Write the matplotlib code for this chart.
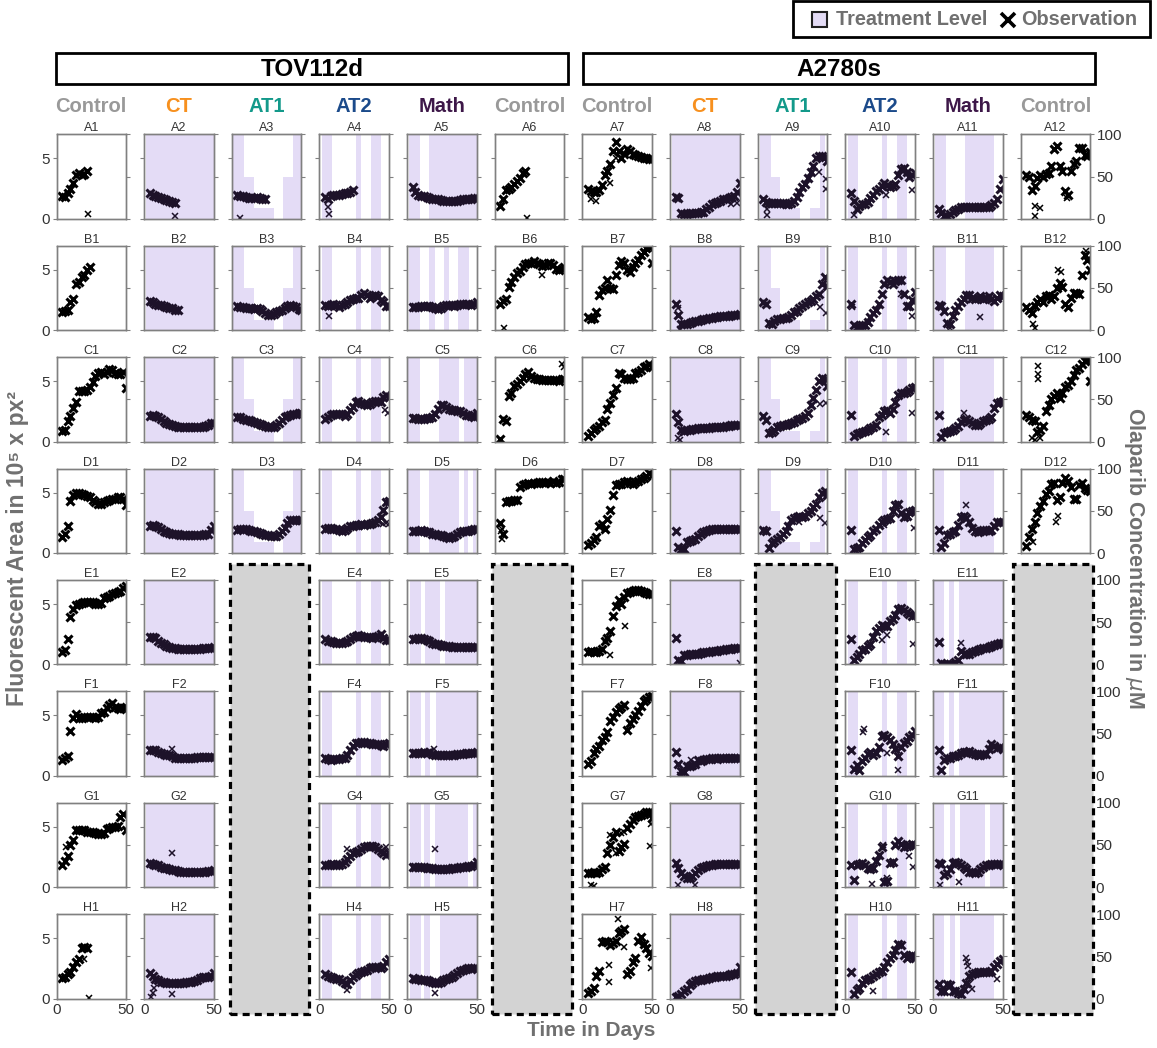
import matplotlib
matplotlib.use("Agg")
import matplotlib.pyplot as plt
from matplotlib.patches import Rectangle
from matplotlib.lines import Line2D

plt.rcParams['font.family'] = ['Liberation Sans', 'DejaVu Sans']

W, H = 1157, 1048
fig = plt.figure(figsize=(W / 100, H / 100), dpi=100)

# ---------------------------------------------------------------- data
days = [4, 6, 8, 10, 12, 14, 16, 18, 20, 22, 24, 26, 28, 30, 32, 34, 36, 38,
        40, 42, 44, 46, 48, 50]

# fluorescent area (1e5 px^2) per well, one value per observation day
A1 = [1.9, 1.8, 2.1, 2.5, 3.0, 3.6, 3.8, 3.6, 3.7, 4.0]
A2 = [2.1, 2.0, 1.9, 1.8, 1.7, 1.6, 1.55, 1.45, 1.4, 1.3]
A3 = [2.0, 1.9, 1.85, 1.8, 1.75, 1.7, 1.75, 1.8, 1.75, 1.65, 1.6]
A4 = [1.8, 1.6, 1.9, 1.95, 2.0, 2.0, 2.05, 2.1, 2.1, 2.2, 2.4]
A5 = [2.6, 2.2, 2.0, 1.9, 1.85, 1.8, 1.75, 1.65, 1.6, 1.6, 1.55, 1.5, 1.5, 1.45,
      1.45, 1.5, 1.5, 1.55, 1.6, 1.6, 1.65, 1.65, 1.7, 1.7]
A6 = [1.1, 1.6, 2.4, 2.5, 2.6, 2.9, 3.1, 3.4, 3.8, 4.0]
A7 = [2.5, 2.3, 2.2, 2.2, 2.4, 2.8, 3.6, 4.0, 4.5, 5.6, 6.4, 5.6, 5.0, 5.4, 5.8,
      5.6, 5.4, 5.3, 5.2, 5.1, 5.0, 5.0, 4.95, 4.95]
A8 = [1.8, 1.7, 0.5, 0.4, 0.4, 0.45, 0.45, 0.5, 0.5, 0.55, 0.6, 0.8, 1.0, 1.2,
      1.3, 1.4, 1.5, 1.6, 1.6, 1.7, 1.8, 1.9, 2.2, 3.0]
A9 = [1.6, 1.4, 1.35, 1.3, 1.3, 1.3, 1.3, 1.3, 1.2, 1.25, 1.3, 1.45, 1.8, 2.2,
      2.6, 2.9, 3.4, 3.9, 4.4, 5.0, 5.2, 5.2, 5.1, 4.8]
A10 = [2.1, 1.5, 0.8, 1.1, 1.2, 1.2, 1.4, 1.7, 2.0, 2.3, 2.5, 2.7, 3.0, 2.8, 2.6,
       2.7, 2.9, 3.6, 4.1, 4.2, 3.9, 3.5, 3.6, 3.8]
A11 = [0.8, 0.5, 0.2, 0.25, 0.4, 0.6, 0.75, 0.85, 0.95, 1.0, 1.0, 1.0, 1.0, 0.95,
       0.95, 0.95, 0.95, 0.95, 1.0, 1.15, 1.3, 1.6, 2.5, 3.3]
A12 = [3.6, 3.5, 2.4, 2.7, 3.4, 3.6, 3.5, 3.7, 3.8, 4.4, 5.8, 6.0, 4.4, 4.0, 2.3,
       2.0, 4.0, 4.5, 4.8, 5.9, 5.9, 5.3, 5.2, 5.5]

B1 = [1.5, 1.6, 1.7, 2.3, 2.6, 3.8, 4.0, 4.4, 4.6, 5.0, 5.2]
B2 = [2.4, 2.3, 2.2, 2.1, 2.05, 2.0, 1.9, 1.85, 1.8, 1.7, 1.65]
B3 = [2.0, 1.95, 1.9, 1.85, 1.8, 1.8, 1.75, 1.8, 1.75, 1.6, 1.45, 1.3, 1.25,
      1.35, 1.5, 1.6, 1.7, 1.85, 2.0, 2.1, 2.0, 1.9, 1.75, 1.7]
B4 = [2.1, 2.0, 2.1, 2.2, 2.1, 1.95, 2.1, 2.2, 2.3, 2.5, 2.6, 2.65, 2.7, 2.95,
      3.05, 2.9, 2.7, 2.85, 2.9, 2.8, 2.5, 2.3, 2.0, 2.0]
B5 = [1.9, 1.9, 1.95, 2.0, 2.0, 2.0, 2.0, 1.9, 1.8, 1.75, 1.8, 2.0, 2.1, 2.1,
      2.1, 2.0, 2.1, 2.15, 2.15, 2.2, 2.2, 2.1, 2.2, 2.3]
B6 = [2.2, 2.4, 2.6, 3.6, 4.0, 4.4, 4.7, 4.9, 5.2, 5.5, 5.6, 5.6, 5.7, 5.6, 5.45,
      5.3, 5.4, 5.6, 5.6, 5.4, 5.1, 5.0, 5.1, 5.2]
B7 = [1.1, 0.9, 1.0, 1.5, 2.9, 3.3, 3.5, 4.2, 3.5, 3.4, 4.6, 5.4, 5.7, 5.6, 5.0,
      4.8, 5.2, 5.6, 5.8, 6.2, 6.5, 6.8, 6.9, 5.6]
B8 = [2.2, 1.3, 0.5, 0.5, 0.55, 0.6, 0.7, 0.75, 0.8, 0.85, 0.9, 0.95, 1.0, 1.05,
      1.1, 1.1, 1.15, 1.15, 1.2, 1.2, 1.25, 1.25, 1.3, 1.35]
B9 = [2.3, 2.2, 0.6, 0.5, 0.8, 0.9, 0.95, 1.0, 1.05, 1.1, 1.3, 1.5, 1.6, 1.8, 2.0,
      2.2, 2.3, 2.4, 2.6, 2.8, 3.0, 3.8, 4.4, 3.7]
B10 = [2.2, 0.4, 0.3, 0.35, 0.4, 0.45, 0.7, 1.1, 1.4, 1.7, 2.2, 3.0, 3.8, 4.2,
       4.0, 3.8, 4.1, 4.2, 4.2, 3.0, 2.0, 2.0, 2.5, 3.2]
B11 = [2.1, 2.0, 1.6, 0.6, 0.5, 1.2, 1.7, 2.0, 2.3, 2.6, 2.9, 2.9, 2.7, 2.6, 2.7,
       2.8, 2.6, 2.7, 2.8, 2.6, 2.4, 2.7, 2.9, 2.8]
B12 = [1.9, 1.7, 1.4, 2.0, 2.3, 2.6, 2.3, 2.8, 2.9, 2.6, 2.8, 3.5, 3.9, 3.6, 2.2,
       1.9, 2.7, 3.1, 3.1, 3.0, 4.6, 6.2, 5.8, 5.0]

C1 = [0.9, 1.0, 1.7, 2.1, 2.8, 3.3, 4.2, 4.2, 4.2, 4.3, 4.5, 4.9, 5.4, 5.7, 5.8,
      5.6, 5.8, 6.0, 5.9, 5.7, 5.6, 5.6, 5.8, 4.4]
C2 = [2.1, 2.2, 2.1, 2.0, 1.9, 1.7, 1.55, 1.45, 1.35, 1.3, 1.25, 1.2, 1.2, 1.2,
      1.2, 1.2, 1.2, 1.2, 1.2, 1.25, 1.3, 1.4, 1.5, 1.55]
C3 = [2.0, 2.0, 1.9, 1.8, 1.75, 1.7, 1.6, 1.5, 1.45, 1.4, 1.3, 1.25, 1.2, 1.25,
      1.35, 1.55, 1.8, 2.0, 2.1, 2.2, 2.25, 2.3, 2.35, 2.4]
C4 = [1.9, 2.0, 2.2, 2.3, 2.3, 2.3, 2.25, 2.1, 2.3, 2.6, 2.9, 3.3, 3.4, 3.2, 3.1,
      3.0, 3.1, 3.3, 3.4, 3.35, 3.3, 3.7, 3.9, 3.7]
C5 = [1.95, 1.95, 1.9, 1.9, 1.9, 1.95, 1.95, 2.0, 2.3, 2.7, 3.0, 3.0, 2.9, 2.7,
      2.6, 2.6, 2.55, 2.5, 2.4, 2.2, 2.2, 2.1, 2.0, 2.4]
C6 = [0.25, 1.9, 1.7, 3.8, 4.0, 4.6, 4.8, 5.0, 5.3, 5.6, 5.8, 5.4, 5.3, 5.2, 5.2,
      5.1, 5.1, 5.1, 5.1, 5.1, 5.1, 5.0, 5.2, 5.2]
C7 = [0.5, 0.7, 1.0, 1.15, 1.3, 1.6, 1.8, 2.7, 3.2, 3.9, 4.4, 5.7, 5.6, 5.3, 5.2,
      5.2, 5.3, 5.7, 5.8, 5.9, 6.2, 6.3, 6.4, 6.2]
C8 = [2.3, 1.6, 1.0, 0.9, 1.0, 1.0, 1.05, 1.05, 1.1, 1.1, 1.1, 1.15, 1.15, 1.2,
      1.2, 1.2, 1.25, 1.25, 1.3, 1.3, 1.35, 1.35, 1.35, 1.4]
C9 = [2.1, 1.8, 0.7, 0.8, 1.0, 1.2, 1.3, 1.35, 1.4, 1.45, 1.5, 1.6, 1.8, 1.9,
      1.95, 2.1, 2.4, 3.0, 3.6, 4.3, 5.0, 5.3, 5.2, 4.6]
C10 = [2.2, 0.5, 0.6, 0.7, 0.8, 0.9, 1.0, 1.1, 1.2, 1.4, 2.0, 2.2, 2.5, 2.6, 2.4,
       2.7, 3.3, 3.9, 4.0, 4.0, 4.1, 4.3, 4.4, 4.5]
C11 = [2.2, 0.4, 0.7, 0.8, 0.9, 1.0, 1.1, 1.3, 1.6, 1.8, 1.9, 1.7, 1.5, 1.4, 1.4,
       1.5, 1.7, 1.8, 1.9, 2.0, 2.8, 3.2, 3.3, 3.4]
C12 = [2.2, 2.0, 1.8, 1.7, 0.8, 1.0, 1.3, 2.5, 3.0, 3.5, 3.8, 4.0, 3.6, 4.0, 4.5,
       4.7, 5.0, 5.5, 5.9, 6.1, 6.4, 6.7, 6.8, 5.0]

D1 = [1.3, 1.6, 2.2, 4.3, 4.8, 5.0, 5.0, 4.9, 4.8, 4.7, 4.6, 4.4, 4.2, 4.1, 4.1,
      4.2, 4.3, 4.4, 4.5, 4.5, 4.6, 4.6, 4.5, 4.0]
D2 = [2.2, 2.3, 2.2, 2.15, 2.0, 1.85, 1.75, 1.65, 1.6, 1.55, 1.55, 1.5, 1.5, 1.5,
      1.5, 1.5, 1.5, 1.5, 1.5, 1.5, 1.55, 1.6, 1.9, 2.2]
D3 = [1.9, 2.0, 2.0, 1.95, 1.9, 1.85, 1.8, 1.7, 1.65, 1.6, 1.5, 1.45, 1.4, 1.4,
      1.4, 1.55, 1.8, 2.1, 2.5, 2.7, 2.7, 2.75, 2.7, 2.7]
D4 = [2.0, 2.05, 2.05, 2.0, 1.95, 1.9, 1.85, 1.9, 2.1, 2.2, 2.2, 2.3, 2.3, 2.4,
      2.35, 2.4, 2.4, 2.5, 2.6, 2.7, 3.0, 3.6, 4.2, 4.3]
D5 = [1.8, 1.8, 1.85, 1.9, 1.8, 1.75, 1.7, 1.6, 1.55, 1.5, 1.45, 1.4, 1.3, 1.25,
      1.3, 1.4, 1.6, 1.7, 1.8, 1.8, 1.85, 1.9, 1.95, 1.95]
D6 = [2.5, 1.6, 4.2, 4.3, 4.3, 4.4, 4.4, 5.5, 5.6, 5.7, 5.8, 5.7, 5.8, 5.8, 5.9,
      5.9, 5.8, 5.9, 5.8, 6.0, 5.8, 5.9, 6.1, 6.1]
D7 = [0.7, 0.8, 1.1, 1.3, 2.2, 2.4, 2.0, 2.8, 3.6, 4.8, 5.6, 5.7, 5.7, 5.9, 6.0,
      5.8, 5.7, 5.9, 6.0, 6.1, 6.2, 6.4, 6.6, 6.5]
D8 = [1.8, 0.5, 0.3, 0.3, 0.9, 1.0, 1.1, 1.2, 1.4, 1.55, 1.7, 1.8, 1.9, 2.0, 2.0,
      2.0, 2.0, 2.0, 2.0, 2.0, 2.0, 2.0, 2.0, 2.0]
D9 = [1.9, 1.8, 0.4, 0.8, 1.0, 1.2, 1.3, 1.6, 1.8, 2.2, 2.7, 2.9, 3.0, 3.1, 3.0,
      3.1, 3.3, 3.5, 3.8, 4.1, 4.6, 5.0, 5.1, 4.8]
D10 = [1.9, 0.3, 0.4, 0.5, 0.8, 1.1, 1.3, 1.5, 1.8, 2.0, 2.3, 2.6, 2.7, 2.8, 2.9,
       3.5, 4.0, 4.1, 3.3, 3.0, 3.1, 3.4, 3.5, 3.6]
D11 = [1.9, 0.5, 0.8, 1.5, 1.6, 1.7, 1.8, 2.3, 3.0, 3.1, 2.9, 2.6, 2.1, 1.8, 1.7,
       1.8, 1.9, 1.9, 1.8, 1.9, 2.2, 2.6, 2.6, 2.6]
D12 = [0.6, 1.3, 2.0, 2.6, 3.3, 3.9, 4.3, 4.9, 5.1, 5.7, 5.8, 4.4, 4.6, 5.8, 6.2,
       6.0, 5.5, 4.5, 4.5, 5.6, 5.8, 5.4, 5.2, 5.1]

E1 = [1.0, 1.2, 2.1, 3.9, 4.6, 4.9, 5.0, 5.1, 5.2, 5.2, 5.2, 5.2, 5.0, 5.0, 5.1,
      5.5, 5.6, 5.7, 5.8, 5.9, 6.0, 6.1, 6.3, 6.5]
E2 = [2.3, 2.25, 2.15, 1.95, 1.8, 1.7, 1.55, 1.45, 1.4, 1.35, 1.3, 1.3, 1.3, 1.3,
      1.3, 1.3, 1.3, 1.3, 1.3, 1.35, 1.35, 1.4, 1.4, 1.45]
E4 = [2.1, 1.95, 1.9, 1.85, 1.8, 1.75, 1.8, 1.85, 1.95, 2.1, 2.25, 2.35, 2.4,
      2.35, 2.3, 2.3, 2.25, 2.2, 2.25, 2.35, 2.5, 2.2, 2.05, 2.0]
E5 = [2.1, 2.1, 2.15, 2.15, 2.1, 2.05, 1.9, 1.75, 1.7, 1.65, 1.6, 1.55, 1.5, 1.5,
      1.45, 1.45, 1.45, 1.45, 1.45, 1.45, 1.45, 1.45, 1.45, 1.45]
E7 = [1.0, 1.1, 1.0, 1.0, 1.1, 1.3, 1.9, 2.2, 2.8, 4.0, 4.8, 5.3, 5.0, 5.6, 5.9,
      6.0, 6.1, 6.2, 6.2, 6.1, 6.0, 5.9, 5.8, 5.8]
E8 = [2.2, 0.4, 0.3, 0.75, 0.8, 0.85, 0.85, 0.9, 0.9, 0.95, 1.0, 1.0, 1.05, 1.1,
      1.1, 1.15, 1.2, 1.2, 1.25, 1.3, 1.3, 1.35, 1.35, 1.4]
E10 = [2.1, 0.4, 0.6, 0.9, 1.2, 1.3, 1.5, 1.7, 2.3, 2.8, 3.0, 3.3, 3.2, 3.2, 3.6,
       3.8, 4.1, 4.6, 4.7, 4.5, 4.3, 4.2, 4.0, 4.1]
E11 = [1.85, 0.1, 0.05, 0.05, 0.05, 0.05, 0.2, 0.35, 1.1, 0.9, 0.85, 0.9, 1.0,
       1.1, 1.2, 1.3, 1.35, 1.4, 1.45, 1.55, 1.6, 1.7, 1.75, 1.8]

F1 = [1.3, 1.5, 1.6, 3.7, 4.8, 5.1, 4.8, 4.8, 4.9, 4.9, 4.85, 4.9, 4.8, 4.9, 5.2,
      5.3, 5.6, 5.9, 6.0, 5.7, 5.6, 5.5, 5.6, 5.7]
F2 = [2.15, 2.15, 2.1, 2.0, 1.9, 1.8, 1.75, 1.7, 1.6, 1.5, 1.45, 1.45, 1.45,
      1.45, 1.45, 1.5, 1.5, 1.55, 1.55, 1.55, 1.55, 1.55, 1.55, 1.55]
F4 = [1.5, 1.4, 1.35, 1.4, 1.4, 1.4, 1.45, 1.5, 1.7, 2.1, 2.5, 2.7, 2.75, 2.8,
      2.8, 2.75, 2.7, 2.65, 2.6, 2.6, 2.55, 2.5, 2.6, 2.7]
F5 = [1.9, 1.9, 1.9, 1.9, 2.0, 1.9, 1.95, 1.8, 1.75, 1.7, 1.7, 1.7, 1.7, 1.75,
      1.75, 1.75, 1.8, 1.8, 1.8, 1.85, 1.85, 1.85, 1.9, 1.95]
F7 = [1.0, 1.2, 1.9, 2.2, 2.5, 3.0, 3.2, 3.6, 4.5, 4.9, 5.3, 5.5, 5.7, 5.9, 3.8,
      4.4, 4.7, 5.0, 5.4, 5.8, 6.2, 6.4, 6.5, 6.6]
F8 = [2.0, 1.0, 0.4, 0.3, 0.8, 0.85, 0.9, 1.0, 1.3, 1.2, 1.3, 1.4, 1.4, 1.45,
      1.45, 1.4, 1.45, 1.45, 1.45, 1.5, 1.5, 1.5, 1.5, 1.5]
F10 = [2.1, 0.6, 0.9, 0.5, 1.2, 1.5, 1.8, 2.0, 1.7, 1.9, 2.4, 3.3, 3.4, 3.2, 3.0,
       2.6, 2.2, 1.6, 2.4, 2.7, 2.9, 3.2, 3.4, 3.7]
F11 = [2.1, 0.5, 1.3, 1.5, 1.5, 1.6, 1.65, 1.75, 1.9, 2.0, 2.0, 2.05, 1.9, 1.8,
       1.75, 1.75, 1.8, 1.8, 2.2, 2.6, 2.5, 2.3, 2.4, 2.2]

G1 = [1.8, 2.2, 2.6, 3.5, 3.9, 4.7, 4.7, 4.75, 4.7, 4.6, 4.6, 4.6, 4.5, 4.4, 4.4,
      4.5, 4.8, 4.9, 5.0, 5.0, 5.1, 5.8, 6.1, 4.7]
G2 = [2.0, 1.95, 1.85, 1.8, 1.7, 1.6, 1.55, 1.5, 1.45, 1.4, 1.35, 1.3, 1.3, 1.25,
      1.25, 1.25, 1.25, 1.3, 1.3, 1.3, 1.3, 1.35, 1.35, 1.4]
G4 = [1.8, 1.85, 1.9, 1.9, 1.85, 1.8, 1.9, 2.1, 2.3, 2.6, 2.8, 2.9, 3.0, 3.2, 3.3,
      3.4, 3.45, 3.4, 3.3, 3.2, 3.0, 2.8, 2.7, 2.8]
G5 = [1.7, 1.7, 1.7, 1.7, 1.65, 1.6, 1.6, 1.55, 1.5, 1.5, 1.5, 1.5, 1.5, 1.5,
      1.55, 1.55, 1.6, 1.65, 1.7, 1.7, 1.75, 1.75, 1.8, 2.1]
G7 = [1.2, 1.2, 1.3, 1.2, 1.3, 1.5, 1.7, 2.8, 3.5, 4.2, 4.6, 3.0, 3.3, 3.6, 4.9,
      5.2, 5.6, 5.8, 5.9, 6.0, 6.1, 6.2, 6.2, 5.7]
G8 = [2.0, 1.6, 1.2, 0.9, 0.8, 0.8, 0.9, 1.2, 1.45, 1.6, 1.7, 1.75, 1.8, 1.85,
      1.9, 1.9, 1.9, 1.95, 1.95, 1.95, 1.95, 1.95, 1.95, 1.95]
G10 = [1.8, 0.6, 1.8, 1.9, 2.0, 1.8, 1.6, 1.5, 1.6, 2.2, 2.7, 3.3, 0.4, 0.5, 2.0,
       2.1, 3.5, 3.8, 3.6, 3.3, 3.4, 3.5, 3.6, 3.5]
G11 = [2.0, 1.9, 1.0, 1.2, 1.5, 2.0, 2.1, 2.0, 1.8, 1.7, 1.5, 1.3, 1.25, 1.2, 1.3,
       1.5, 1.7, 1.8, 1.8, 1.9, 1.9, 1.9, 1.9, 1.85]

H1 = [1.7, 1.8, 2.0, 2.2, 2.6, 3.0, 3.3, 4.2, 4.3, 4.2]
H2 = [2.1, 1.9, 1.6, 1.5, 1.4, 1.35, 1.3, 1.3, 1.3, 1.3, 1.3, 1.3, 1.3, 1.35,
      1.35, 1.4, 1.45, 1.55, 1.7, 1.8, 1.75, 1.8, 1.9, 2.1]
H4 = [2.0, 1.85, 1.75, 1.7, 1.65, 1.6, 1.45, 1.3, 1.25, 1.5, 1.8, 1.95, 2.1, 2.2,
      2.3, 2.4, 2.5, 2.6, 2.65, 2.6, 2.55, 2.7, 3.0, 3.3]
H5 = [1.7, 1.65, 1.6, 1.55, 1.5, 1.5, 1.45, 1.4, 1.3, 1.3, 1.35, 1.5, 1.6, 1.7,
      1.8, 1.95, 2.1, 2.25, 2.35, 2.45, 2.5, 2.5, 2.5, 2.45]
H7 = [0.5, 0.6, 0.9, 1.9, 2.3, 4.7, 4.8, 4.7, 4.4, 4.6, 4.8, 5.4, 5.6, 5.8, 2.0,
      2.3, 3.0, 3.4, 4.8, 5.1, 4.5, 4.2, 3.8, 3.5]
H8 = [0.15, 0.2, 0.35, 0.6, 0.8, 1.1, 1.3, 1.45, 1.5, 1.55, 1.6, 1.65, 1.7, 1.75,
      1.8, 1.85, 1.85, 1.9, 1.9, 1.95, 2.0, 2.0, 2.1, 2.6]
H10 = [2.2, 0.4, 0.7, 0.9, 1.3, 1.5, 1.6, 1.7, 1.9, 2.0, 2.2, 2.3, 2.6, 3.0, 3.4,
       3.6, 4.0, 4.5, 4.4, 3.6, 3.4, 3.5, 3.6, 3.4]
H11 = [1.2, 0.6, 0.6, 1.2, 1.1, 0.6, 0.6, 0.5, 0.4, 0.8, 1.3, 1.9, 2.0, 2.1, 2.2,
       2.2, 2.2, 2.2, 2.2, 2.3, 2.6, 2.9, 3.1, 3.3]

# isolated observations away from the main trend (day, area)
extra_A = {"A1": [(23, 0.4)], "A2": [(22, 0.2)], "A3": [(6, 0.1)],
           "A4": [(6.5, 0.4), (6, 1.0)], "A6": [(23, 0.1)],
           "A7": [(6, 1.6), (10, 1.5), (20, 3.0), (24, 5.0)],
           "A8": [(44, 1.2), (48, 1.3)],
           "A9": [(6.5, 0.3), (6.5, 0.8), (44, 3.9), (49, 2.5), (49, 3.3)],
           "A10": [(6, 0.3), (48, 2.4), (29, 2.0)],
           "A12": [(10, 1.1), (10.5, 0.2), (13.5, 0.9), (33, 1.7)]}
extra_B = {"B4": [(6.5, 1.2)], "B6": [(6.5, 0.15), (34, 4.6)],
           "B8": [(7, 0.1), (6, 1.8)], "B9": [(44.5, 1.9), (49, 1.4)],
           "B10": [(4.5, 1.9), (48, 1.2), (40, 3.0)],
           "B11": [(12, 0.15), (33.5, 1.1)],
           "B12": [(9, 0.5), (10, 0.2), (26.5, 5.0), (29, 4.8), (47, 6.6)]}
extra_C = {"C4": [(47, 2.6), (49, 2.4)], "C6": [(48.5, 6.4), (49.5, 6.2)],
           "C8": [(6, 0.3), (7, 0.1)], "C9": [(45, 3.1), (49, 3.2)],
           "C10": [(29.5, 0.8), (48, 2.4)], "C11": [(22, 2.4)],
           "C12": [(12.5, 6.3), (12.5, 5.6), (12.5, 5.2), (8, 0.3), (10, 0.1),
                   (14, 0.3)]}
extra_D = {"D4": [(46, 2.4), (48, 2.5), (50, 2.4)],
           "D6": [(5, 1.2), (5.5, 2.0), (4.5, 1.8)],
           "D9": [(45, 2.9), (48.5, 2.5), (30, 2.6)],
           "D10": [(49, 2.1), (28, 2.3)], "D11": [(24, 4.0)],
           "D12": [(25, 2.6), (26.5, 3.1), (9, 0.9)]}
extra_E = {"E7": [(20, 0.8), (30.5, 3.2)], "E8": [(50, 0.1)],
           "E10": [(48.5, 1.7), (26.5, 2.0), (30, 2.4)], "E11": [(20, 1.8)]}
extra_F = {"F2": [(20, 2.2)], "F5": [(19, 2.2)],
           "F8": [(7, 0.1), (8, 0.05), (15, 1.3)],
           "F10": [(13, 3.9), (12.5, 3.6), (37.5, 0.5), (30, 1.9)]}
extra_G = {"G1": [(6.5, 3.3)], "G2": [(20, 2.8)],
           "G4": [(19.5, 3.2), (48, 3.3)], "G5": [(20, 3.2)],
           "G7": [(6, 0.2), (8, 0.1), (20, 4.3), (24, 2.8), (28, 4.5), (30, 4.6),
                  (48.5, 3.4), (49, 5.2)],
           "G8": [(6, 0.2), (18, 0.2)],
           "G10": [(19, 0.3), (27, 3.5), (30, 0.8), (46, 2.6), (48.5, 1.7)],
           "G11": [(5, 0.2), (18.5, 0.45)]}
extra_H = {"H1": [(19.5, 3.3), (23.5, 0.05)],
           "H2": [(5, 0.1), (6, 0.5), (7, 0.9), (20, 0.35)],
           "H4": [(20, 0.75)], "H5": [(20, 0.45)],
           "H7": [(25.4, 6.6), (19, 2.8), (19, 1.4), (49, 2.5), (30, 4.3)],
           "H10": [(19.5, 0.6)],
           "H11": [(24, 3.4), (24.5, 3.0), (25, 2.7), (28, 0.8), (26, 1.2),
                   (46, 1.6)]}

# olaparib schedules: (start day, end day, concentration in uM)
ct_segments = [(1.0, 50.0, 100)]
at1_tov_segments = [(1.0, 8.5, 100), (8.5, 16.0, 50), (16.0, 30.5, 12.5),
                    (37.0, 44.0, 50), (44.0, 50.0, 100)]
at1_a2780_segments = [(1.5, 9.5, 100), (9.5, 16.0, 50), (16.0, 30.5, 12.5),
                      (37.3, 44.5, 12.5), (44.5, 48.0, 100)]
at2_segments = [(1.5, 9.0, 100), (26.5, 30.0, 100), (37.0, 44.3, 100)]
math_tov = {"A": [(1.5, 9.2), (16.0, 50.0)],
            "B": [(1.5, 9.2), (16.0, 20.1), (26.7, 30.3), (36.9, 44.4)],
            "C": [(0.8, 9.3), (23.0, 37.2), (41.2, 50.0)],
            "D": [(0.8, 9.3), (15.9, 37.2), (41.2, 43.9), (47.3, 49.2)],
            "E": [(2.0, 10.3), (12.8, 23.6), (27.0, 50.0)],
            "F": [(2.0, 10.3), (12.8, 16.7), (20.5, 50.0)],
            "G": [(2.0, 9.8), (12.4, 16.3), (20.2, 43.5), (47.4, 50.0)],
            "H": [(2.0, 9.8), (12.4, 16.3), (23.3, 50.0)]}
math_a2780 = {"A": [(1.2, 9.1), (22.8, 43.8)],
              "B": [(1.2, 9.1), (22.8, 43.8)],
              "C": [(1.1, 8.2), (19.2, 44.0)],
              "D": [(1.1, 8.2), (19.2, 44.0)],
              "E": [(0.6, 7.8), (11.7, 15.3), (18.9, 50.0)],
              "F": [(0.6, 7.8), (11.7, 15.3), (18.9, 50.0)],
              "G": [(1.1, 8.2), (12.1, 15.7), (19.2, 37.1), (40.9, 50.0)],
              "H": [(1.1, 8.2), (12.1, 15.7), (19.2, 44.0)]}

rows = ["A", "B", "C", "D", "E", "F", "G", "H"]
col_arms = ["Control", "CT", "AT1", "AT2", "Math", "Control",
            "Control", "CT", "AT1", "AT2", "Math", "Control"]
arm_colors = {"Control": "#999999", "CT": "#f7901e", "AT1": "#13998a",
              "AT2": "#1b4a8a", "Math": "#3d1748"}
cell_lines = ["TOV112d", "A2780s"]
missing_rows = ["E", "F", "G", "H"]
missing_cols = [3, 6, 9, 12]

wells = {}
for name, vals in list(globals().items()):
    if len(name) in (2, 3) and name[0] in rows and name[1:].isdigit():
        wells[name] = vals
extras = {}
for d in (extra_A, extra_B, extra_C, extra_D, extra_E, extra_F, extra_G,
          extra_H):
    extras.update(d)

# ---------------------------------------------------------------- layout
LAV = "#e4dcf6"
SPINE = "#808080"
TXT = "#333333"
LABEL_GREY = "#707070"

col_left0, col_step, pw = 56.5, 87.66, 69.5
row_top0, row_step, ph = 134.3, 111.4, 84.5


def fig_rect(x0, y0, x1, y1):
    return [x0 / W, 1 - y1 / H, (x1 - x0) / W, (y1 - y0) / H]


def schedule_for(col, row):
    arm = col_arms[col - 1]
    if arm == "CT":
        return ct_segments
    if arm == "AT1":
        return at1_tov_segments if col <= 6 else at1_a2780_segments
    if arm == "AT2":
        return at2_segments
    if arm == "Math":
        segs = math_tov[row] if col <= 6 else math_a2780[row]
        return [(s, e, 100) for s, e in segs]
    return []


for ri, row in enumerate(rows):
    for col in range(1, 13):
        hidden = row in missing_rows and col in missing_cols
        if hidden and col != 12:
            continue
        x0 = col_left0 + (col - 1) * col_step
        y0 = row_top0 + ri * row_step
        ax = fig.add_axes(fig_rect(x0, y0, x0 + pw, y0 + ph))
        ax2 = ax.twinx()
        ax.set_zorder(ax2.get_zorder() + 1)
        ax.patch.set_visible(False)
        ax.set_xlim(0, 50)
        ax.set_ylim(0, 7)
        ax2.set_ylim(0, 100)
        ax.set_yticks([0, 5])
        ax2.set_yticks([0, 50, 100])
        ax.set_xticks([0, 50])
        for a in (ax, ax2):
            for s in a.spines.values():
                s.set_color(SPINE)
                s.set_linewidth(1.0)
        ax.tick_params(axis="y", direction="out", length=3, width=0.8,
                       color=SPINE, labelsize=11, labelcolor=TXT, pad=1.5,
                       labelleft=(col == 1))
        ax2.tick_params(axis="y", direction="out", length=3, width=0.8,
                        color=SPINE, labelsize=11, labelcolor=TXT, pad=1.5,
                        labelright=(col == 12))
        ax.tick_params(axis="x", length=0, labelsize=11, labelcolor=TXT,
                       pad=3, labelbottom=(row == "H"))
        if hidden:
            for a in (ax, ax2):
                for s in a.spines.values():
                    s.set_visible(False)
            ax.tick_params(axis="both", length=0, labelleft=False,
                           labelbottom=False)
            ax2.tick_params(length=0, pad=4)
            continue

        well = f"{row}{col}"
        ax.set_title(well, fontsize=9, color=TXT, pad=2)

        for s, e, lvl in schedule_for(col, row):
            ax2.fill_between([s, e], 0, lvl, color=LAV, lw=0)

        treated = col_arms[col - 1] != "Control"
        mcol = "#1d1229" if treated else "black"
        vals = wells[well]
        ax.plot(days[:len(vals)], vals, ls="none", marker="x", ms=5.5,
                mew=2.2, color=mcol)
        pts = extras.get(well, [])
        if pts:
            ax.plot([p[0] for p in pts], [p[1] for p in pts], ls="none",
                    marker="x", ms=4.0, mew=1.1, color=mcol)

# grey placeholders for wells without data
box_x = {3: (229.5, 309.0), 6: (492.0, 571.5), 9: (755.0, 835.5),
         12: (1012.5, 1092.5)}
for col, (bx0, bx1) in box_x.items():
    fig.patches.append(Rectangle((bx0 / W, 1 - 1013.5 / H), (bx1 - bx0) / W,
                                 (1013.5 - 563.5) / H, transform=fig.transFigure,
                                 facecolor="#d3d3d3", edgecolor="black",
                                 lw=2.3, ls=(0, (2.2, 1.6)), zorder=5))

# cell-line headers
for (hx0, hx1), label in zip([(56, 568), (583, 1095)], cell_lines):
    fig.patches.append(Rectangle((hx0 / W, 1 - 84 / H), (hx1 - hx0) / W,
                                 31 / H, transform=fig.transFigure,
                                 facecolor="white", edgecolor="black", lw=2))
    fig.text((hx0 + hx1) / 2 / W, 1 - 69 / H, label, ha="center", va="center",
             fontsize=17.5, fontweight="bold", color="black")

# treatment arm titles
for col in range(1, 13):
    arm = col_arms[col - 1]
    cx = col_left0 + (col - 1) * col_step + pw / 2
    fig.text(cx / W, 1 - 107 / H, arm, ha="center", va="center", fontsize=14.5,
             fontweight="bold", color=arm_colors[arm])

# legend
fig.patches.append(Rectangle((793 / W, 1 - 37 / H), 357 / W, 36 / H,
                             transform=fig.transFigure, facecolor="white",
                             edgecolor="black", lw=2))
fig.patches.append(Rectangle((812 / W, 1 - 27 / H), 15 / W, 15 / H,
                             transform=fig.transFigure, facecolor=LAV,
                             edgecolor="#222222", lw=1.5))
fig.text(836 / W, 1 - 19.5 / H, "Treatment Level", ha="left", va="center",
         fontsize=14.3, fontweight="bold", color=LABEL_GREY)
fig.lines.append(Line2D([1008 / W], [1 - 19.5 / H], transform=fig.transFigure,
                        marker="x", ms=10, mew=2.6, color="black", ls="none"))
fig.text(1021 / W, 1 - 19.5 / H, "Observation", ha="left", va="center",
         fontsize=14.3, fontweight="bold", color=LABEL_GREY)

# axis titles
fig.text(18 / W, 1 - 549 / H, "Fluorescent Area in 10\u2075 x px\u00b2",
         rotation=90, ha="center", va="center", fontsize=16.5,
         fontweight="bold", color=LABEL_GREY)
fig.text(1134 / W, 1 - 558 / H, r"Olaparib Concentration in $\mu$M",
         rotation=270, ha="center", va="center", fontsize=15.5,
         fontweight="bold", color=LABEL_GREY)
fig.text(591 / W, 1 - 1030 / H, "Time in Days", ha="center", va="center",
         fontsize=15, fontweight="bold", color=LABEL_GREY)

fig.savefig("out.png", dpi=100)
